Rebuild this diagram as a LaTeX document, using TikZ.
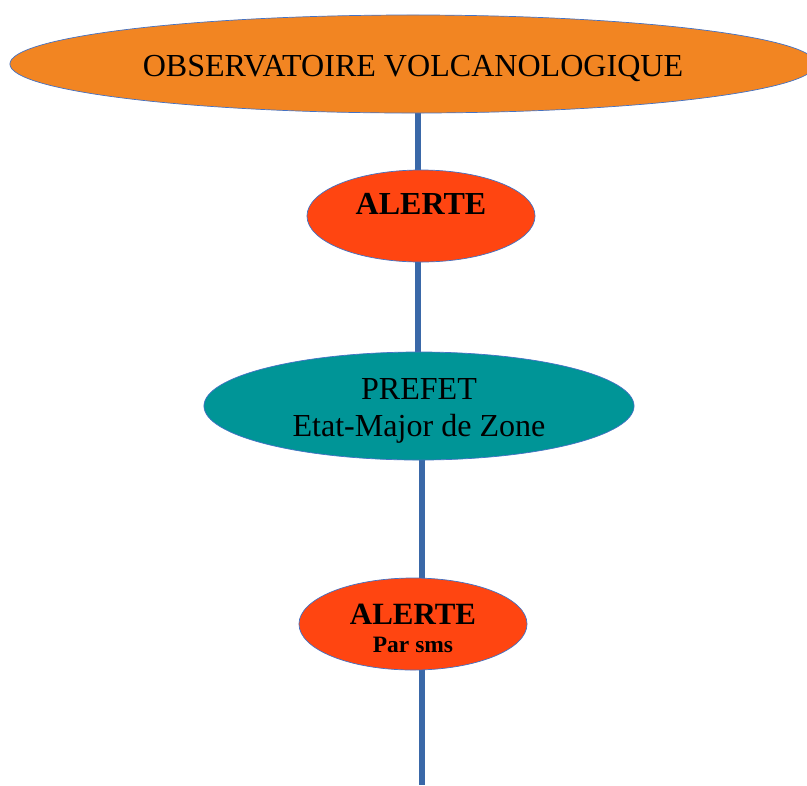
\documentclass[tikz,border=0pt]{standalone}
\usepackage{fontspec}
\setmainfont{Liberation Serif}
\usepackage{tikz}
\usetikzlibrary{shapes.geometric, backgrounds}

\definecolor{obsorange}{HTML}{F28522}
\definecolor{alertred}{HTML}{FF4511}
\definecolor{prefteal}{HTML}{009597}
\definecolor{rimblue}{HTML}{4472C4}
\definecolor{spineblue}{HTML}{3A68A8}

\begin{document}
\begin{tikzpicture}[x=0.025cm, y=-0.025cm]

        % Setup the styles for the ellipses and the line
        \tikzset{oval style/.style={ellipse,
                                    inner sep=0pt,
                                    line width=0.5pt,
                                    draw=rimblue,
                                    align=center},
                 big text/.style={font=\fontsize{22.8}{26.3}\selectfont},
                 spine/.style={line width=4.6pt,
                               draw=spineblue}}

        \useasboundingbox (0, 0) rectangle (807, 785);

        % Draw the ellipses
        \node[oval style, big text, fill=obsorange,
              minimum width=20.15cm, minimum height=2.45cm,
              text height=21pt, text depth=3pt]
            at (413, 64)    (obs)      {OBSERVATOIRE VOLCANOLOGIQUE};
        \node[oval style, big text, fill=alertred,
              minimum width=5.7cm, minimum height=2.3cm,
              text height=17pt, text depth=18.5pt]
            at (421, 216)   (alerte)   {\bfseries ALERTE};
        \node[oval style, big text, fill=prefteal,
              minimum width=10.75cm, minimum height=2.7cm,
              text height=48pt, text depth=4pt]
            at (419, 406)   (prefet)   {PREFET\\Etat-Major de Zone};
        \node[oval style, fill=alertred,
              minimum width=5.7cm, minimum height=2.3cm,
              text height=42pt, text depth=2pt]
            at (413, 624)   (sms)      {\fontsize{22}{22}\selectfont\bfseries ALERTE\\[8pt]
                                        \fontsize{16.7}{18}\selectfont\bfseries Par sms};

        % Ends of the vertical line
        \coordinate (upper) at (418, 0);
        \coordinate (lower) at (422, 785);

        % Connect the ellipses with the line
        \begin{scope}[on background layer]
            \draw[spine] (upper |- obs.center)    -- (upper |- prefet.center);
            \draw[spine] (lower |- prefet.center) -- (lower);
        \end{scope}
\end{tikzpicture}
\end{document}
